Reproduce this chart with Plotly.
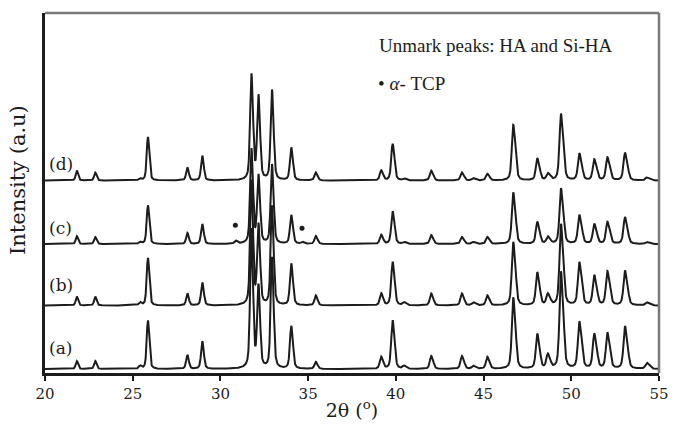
import numpy as np
import plotly.graph_objects as go

# Peak positions (2θ, degrees)
peak_pos = [21.8, 22.85, 25.4, 25.85, 28.1, 28.95, 31.75, 32.15, 32.92, 34.02,
            35.42, 39.15, 39.8, 40.45, 42.0, 43.75, 44.4, 45.2, 46.68, 48.05,
            48.65, 49.4, 50.45, 51.3, 52.05, 53.05, 54.3]

# Peak heights above each baseline (arbitrary units)
heights_a = [8, 8, 3, 49, 14, 28, 140, 82, 112, 43, 7, 12, 49, 3, 13, 13, 3, 12,
             72, 35, 14, 98, 47, 35, 36, 43, 6]
heights_b = [9, 9, 3, 48, 12, 23, 125, 80, 100, 42, 10, 12, 44, 3, 12, 12, 3, 10,
             64, 33, 11, 82, 43, 30, 34, 35, 3]
heights_c = [8, 7, 2, 39, 11, 20, 95, 68, 80, 29, 8, 9, 33, 2, 9, 7, 2, 7,
             52, 22, 7, 56, 29, 20, 22, 27, 2]
heights_d = [10, 8, 2, 44, 13, 25, 106, 84, 91, 33, 8, 10, 37, 2, 10, 8, 2.3, 6.7,
             56, 22, 6.7, 67, 27, 21, 23, 28, 3]

# α-TCP peaks in pattern (c)
tcp_pos = [30.85, 34.65]
tcp_heights = [3, 2]
tcp_marker_y = [149, 146]

baselines = {"(a)": 4, "(b)": 68, "(c)": 130, "(d)": 194}
label_y = {"(a)": 25, "(b)": 89, "(c)": 146, "(d)": 211}

x_ticks = [20, 25, 30, 35, 40, 45, 50, 55]

two_theta = np.arange(20.0, 55.0001, 0.01)


def unit_peak(x, x0):
    fwhm = 0.14 + 0.0015 * (x0 - 20)
    eta = 0.5

    def pv(c):
        t = (x - c) / fwhm
        return eta / (1 + 4 * t * t) + (1 - eta) * np.exp(-4 * np.log(2) * t * t)

    shift = np.degrees(2 * np.tan(np.radians(x0 / 2)) * 0.0025)
    prof = pv(x0) + 0.5 * pv(x0 + shift)
    return prof / prof.max()


def pattern(pos, hts, base, extra_pos=(), extra_h=()):
    y = np.full_like(two_theta, float(base))
    for p, h in zip(list(pos) + list(extra_pos), list(hts) + list(extra_h)):
        y += h * unit_peak(two_theta, p)
    return y


series = [
    ("(a)", pattern(peak_pos, heights_a, baselines["(a)"])),
    ("(b)", pattern(peak_pos, heights_b, baselines["(b)"])),
    ("(c)", pattern(peak_pos, heights_c, baselines["(c)"], tcp_pos, tcp_heights)),
    ("(d)", pattern(peak_pos, heights_d, baselines["(d)"])),
]

INK = "#1c1c1c"
wide_serif = "DejaVu Serif"
times = "Liberation Serif"

fig = go.Figure()
for name, y in series:
    fig.add_trace(go.Scatter(x=two_theta, y=y, mode="lines",
                             line=dict(color=INK, width=2),
                             showlegend=False, hoverinfo="skip"))

fig.add_trace(go.Scatter(x=tcp_pos, y=tcp_marker_y, mode="markers",
                         marker=dict(color=INK, size=5),
                         showlegend=False, hoverinfo="skip"))

for name in ["(a)", "(b)", "(c)", "(d)"]:
    fig.add_annotation(x=20.12, y=label_y[name], text=name, showarrow=False,
                       xanchor="left", yanchor="middle",
                       font=dict(family=wide_serif, size=17, color=INK))

fig.add_annotation(x=38.9, y=330, text="Unmark peaks: HA and Si-HA", showarrow=False,
                   xanchor="left", yanchor="middle",
                   font=dict(family=times, size=19, color=INK))
fig.add_annotation(x=38.85, y=292, text="• <i>α</i>- TCP", showarrow=False,
                   xanchor="left", yanchor="middle",
                   font=dict(family=times, size=19, color=INK))

# y-axis title
fig.add_annotation(xref="paper", yref="paper", x=-0.043, y=0.535,
                   text="Intensity (a.u)", textangle=-90, showarrow=False,
                   xanchor="center", yanchor="middle",
                   font=dict(family=wide_serif, size=21, color=INK))

# top and right frame lines (grey)
fig.add_shape(type="line", xref="paper", yref="paper", x0=0, x1=1, y0=1, y1=1,
              line=dict(color="#7a7a7a", width=2.5))
fig.add_shape(type="line", xref="paper", yref="paper", x0=1, x1=1, y0=0, y1=1,
              line=dict(color="#7a7a7a", width=2.5))

fig.update_layout(
    width=679, height=428,
    margin=dict(l=45, r=10, t=13, b=52),
    paper_bgcolor="white", plot_bgcolor="white",
    font=dict(family=wide_serif, color=INK),
    hovermode=False,
    xaxis=dict(range=[20, 55], tickvals=x_ticks, ticktext=[str(t) for t in x_ticks],
               ticks="outside", ticklen=5, tickwidth=2, tickcolor=INK,
               ticklabeloverflow="allow",
               showline=True, linecolor=INK, linewidth=3,
               showgrid=False, zeroline=False,
               tickfont=dict(family=wide_serif, size=15, color=INK),
               title=dict(text="2θ (<sup>o</sup>)", standoff=2,
                          font=dict(family=wide_serif, size=19, color=INK))),
    yaxis=dict(range=[0, 363], showticklabels=False, ticks="",
               showline=True, linecolor=INK, linewidth=3,
               showgrid=False, zeroline=False),
)

fig.write_html("out.html",
               config={"displayModeBar": False, "staticPlot": True},
               post_script="document.body.style.margin='0';"
                           "document.body.style.overflow='hidden';")
